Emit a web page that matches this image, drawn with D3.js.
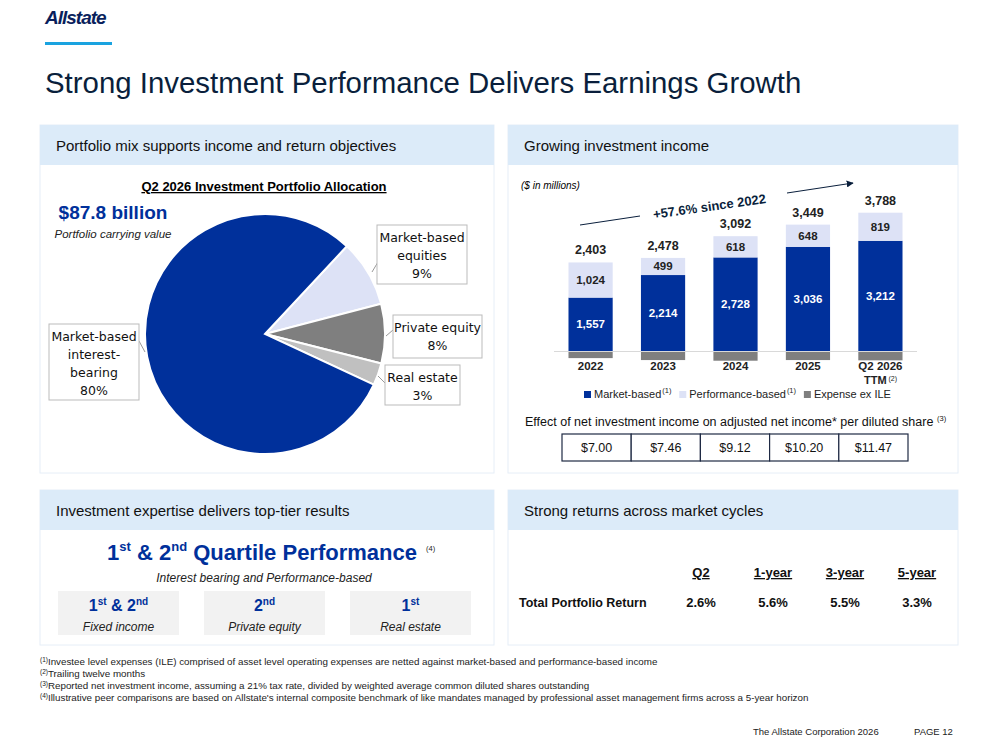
<!DOCTYPE html>
<html><head><meta charset="utf-8">
<script src="https://cdn.jsdelivr.net/npm/d3@7"></script>
<style>body{margin:0;background:#fff}svg{font-family:"Liberation Sans",Arial,sans-serif}</style>
</head><body><svg id="c" width="994" height="749"></svg>
<script>
const pieLabels=["Market-based interest-bearing","Market-based equities","Private equity","Real estate"];
const pieValues=[80,9,8,3];
const years=["2022","2023","2024","2025","Q2 2026"];
const marketBased=[1557,2214,2728,3036,3212];
const performanceBased=[1024,499,618,648,819];
const expense=[-178,-235,-254,-235,-243];
const totals=[2403,2478,3092,3449,3788];
const epsEffect=["$7.00","$7.46","$9.12","$10.20","$11.47"];
const returnPeriods=["Q2","1-year","3-year","5-year"];
const returnValues=["2.6%","5.6%","5.5%","3.3%"];

const svg=d3.select("#c");
const NAVY="#00309b", HDR="#dcebf9";
svg.append("text").attr("x",45).attr("y",24).attr("font-size",19).attr("font-weight","bold").attr("font-style","italic").attr("fill","#0a1f5c").attr("letter-spacing","-1").text("Allstate");
svg.append("rect").attr("x",45).attr("y",42).attr("width",67).attr("height",3).attr("fill","#1aa3e0");
svg.append("text").attr("x",45).attr("y",93).attr("font-size",29.4).attr("fill","#0a1f3c").text("Strong Investment Performance Delivers Earnings Growth");

function panel(x,y,w,h,title){
  svg.append("rect").attr("x",x).attr("y",y).attr("width",w).attr("height",h).attr("fill","#fff").attr("stroke","#e6eef7");
  svg.append("rect").attr("x",x).attr("y",y).attr("width",w).attr("height",40).attr("fill",HDR);
  svg.append("text").attr("x",x+16).attr("y",y+26).attr("font-size",15).attr("fill","#111").text(title);
}
panel(40,125,454,348,"Portfolio mix supports income and return objectives");
panel(508,125,450,348,"Growing investment income");
panel(40,490,454,155,"Investment expertise delivers top-tier results");
panel(508,490,450,155,"Strong returns across market cycles");

// ---- Pie
svg.append("text").attr("x",264).attr("y",191).attr("text-anchor","middle").attr("font-size",13).attr("font-weight","bold").attr("text-decoration","underline").text("Q2 2026 Investment Portfolio Allocation");
svg.append("text").attr("x",113).attr("y",219).attr("text-anchor","middle").attr("font-size",19).attr("font-weight","bold").attr("fill",NAVY).text("$87.8 billion");
svg.append("text").attr("x",113).attr("y",238).attr("text-anchor","middle").attr("font-size",11.5).attr("font-style","italic").attr("fill","#222").text("Portfolio carrying value");
const pieCols=[NAVY,"#dde2f6","#7f7f7f","#c0c0c0"];
const order=[1,2,3,0];
const start=43*Math.PI/180;
const pie=d3.pie().sort(null).value(d=>pieValues[d]).startAngle(start).endAngle(start+2*Math.PI);
const arc=d3.arc().innerRadius(0).outerRadius(120);
const pg=svg.append("g").attr("transform","translate(265,334)");
pg.selectAll("path").data(pie(order)).join("path").attr("d",arc).attr("fill",d=>pieCols[d.data]).attr("stroke","#fff").attr("stroke-width",2);
function callout(x,y,w,h,lines,lx1,ly1,lx2,ly2){
  svg.append("path").attr("d",`M${lx1},${ly1}L${lx2},${ly2}`).attr("stroke","#999").attr("fill","none");
  svg.append("rect").attr("x",x).attr("y",y).attr("width",w).attr("height",h).attr("fill","#fff").attr("stroke","#bbb");
  lines.forEach((l,i)=>svg.append("text").attr("x",x+w/2).attr("y",y+17+i*18).attr("text-anchor","middle").attr("font-size",12.5).attr("font-family","DejaVu Sans").attr("fill","#111").text(l));
}
callout(377,225,90,59,["Market-based","equities",pieValues[1]+"%"],372,272,378,262);
callout(393,315,89,43,["Private equity",pieValues[2]+"%"],386,336,393,330);
callout(385,365,75,40,["Real estate",pieValues[3]+"%"],378,376,385,383);
callout(49,324,90,76,["Market-based","interest-","bearing",pieValues[0]+"%"],145,352,139,341);

// ---- Bars
svg.append("text").attr("x",521).attr("y",189).attr("font-size",10).attr("font-style","italic").text("($ in millions)");
const x=d3.scaleBand().domain(years).range([554,917]).paddingInner(0.39).paddingOuter(0.2);
const y=d3.scaleLinear().domain([0,4031]).range([351,212.7]);
const bg=svg.append("g");
years.forEach((yr,i)=>{
  const bx=x(yr), bw=x.bandwidth(), cx=bx+bw/2;
  bg.append("rect").attr("x",bx).attr("width",bw).attr("y",y(0)+1).attr("height",y(expense[i])-y(0)).attr("fill","#7f7f7f");
  bg.append("rect").attr("x",bx).attr("width",bw).attr("y",y(marketBased[i])).attr("height",y(0)-y(marketBased[i])).attr("fill",NAVY);
  const top=marketBased[i]+performanceBased[i];
  bg.append("rect").attr("x",bx).attr("width",bw).attr("y",y(top)).attr("height",y(marketBased[i])-y(top)).attr("fill","#dde2f6");
  const fs=11.5;
  bg.append("text").attr("x",cx).attr("y",(y(0)+y(marketBased[i]))/2+4).attr("text-anchor","middle").attr("font-size",fs).attr("font-weight","bold").attr("fill","#fff").text(d3.format(",")(marketBased[i]));
  bg.append("text").attr("x",cx).attr("y",(y(top)+y(marketBased[i]))/2+4).attr("text-anchor","middle").attr("font-size",fs).attr("font-weight","bold").attr("fill","#222").text(d3.format(",")(performanceBased[i]));
  bg.append("text").attr("x",cx).attr("y",y(top)-8).attr("text-anchor","middle").attr("font-size",12.5).attr("font-weight","bold").attr("fill","#222").text(d3.format(",")(totals[i]));
  bg.append("text").attr("x",cx).attr("y",370).attr("text-anchor","middle").attr("font-size",11.5).attr("font-weight","bold").attr("fill","#222").text(yr);
});
bg.append("line").attr("x1",554).attr("x2",917).attr("y1",351.5).attr("y2",351.5).attr("stroke","#d9d9d9");
const lc=x("Q2 2026")+x.bandwidth()/2;
bg.append("text").attr("x",lc-5).attr("y",384).attr("text-anchor","middle").attr("font-size",11).attr("font-weight","bold").attr("fill","#222").text("TTM");
bg.append("text").attr("x",lc+8).attr("y",381).attr("font-size",7).attr("fill","#222").text("(2)");
svg.append("defs").append("marker").attr("id","ah").attr("viewBox","0 0 10 10").attr("refX",9).attr("refY",5).attr("markerWidth",7).attr("markerHeight",7).attr("orient","auto").append("path").attr("d","M0,0L10,5L0,10z").attr("fill","#0a1f3c");
svg.append("line").attr("x1",580).attr("y1",225).attr("x2",640).attr("y2",216).attr("stroke","#0a1f3c");
svg.append("line").attr("x1",787).attr("y1",193).attr("x2",853).attr("y2",183).attr("stroke","#0a1f3c").attr("marker-end","url(#ah)");
svg.append("text").attr("transform","translate(710,211) rotate(-8)").attr("text-anchor","middle").attr("font-size",13).attr("font-weight","bold").attr("fill","#0a1f3c").text("+57.6% since 2022");
const leg=[["Market-based",NAVY,true],["Performance-based","#dde2f6",true],["Expense ex ILE","#7f7f7f",false]];
let lx=584;
leg.forEach(([t,c,s])=>{
  svg.append("rect").attr("x",lx).attr("y",391).attr("width",7).attr("height",7).attr("fill",c);
  const tt=svg.append("text").attr("x",lx+10).attr("y",398).attr("font-size",11).attr("fill","#222").text(t);
  let w=tt.node().getComputedTextLength()+10;
  if(s){svg.append("text").attr("x",lx+w+1).attr("y",393).attr("font-size",7.5).attr("fill","#222").text("(1)");w+=12;}
  lx+=w+6;
});
svg.append("text").attr("x",525).attr("y",426).attr("font-size",12.5).attr("fill","#111").text("Effect of net investment income on adjusted net income* per diluted share");
svg.append("text").attr("x",937).attr("y",421).attr("font-size",7.5).attr("fill","#111").text("(3)");
const tx=d3.scaleBand().domain(years).range([562,908]);
years.forEach((yr,i)=>{
  svg.append("rect").attr("x",tx(yr)).attr("y",434).attr("width",tx.bandwidth()).attr("height",27).attr("fill","#fff").attr("stroke","#1f2a44").attr("stroke-width",1.2);
  svg.append("text").attr("x",tx(yr)+tx.bandwidth()/2).attr("y",452).attr("text-anchor","middle").attr("font-size",12.5).attr("fill","#111").text(epsEffect[i]);
});

// ---- Quartile panel
const qt=svg.append("text").attr("x",262).attr("y",560).attr("text-anchor","middle").attr("font-size",22).attr("font-weight","bold").attr("fill",NAVY);
qt.append("tspan").text("1");
qt.append("tspan").attr("font-size",13).attr("dy",-9).text("st");
qt.append("tspan").attr("dy",9).text(" & 2");
qt.append("tspan").attr("font-size",13).attr("dy",-9).text("nd");
qt.append("tspan").attr("dy",9).text(" Quartile Performance");
svg.append("text").attr("x",426).attr("y",551).attr("font-size",7.5).attr("fill","#222").text("(4)");
svg.append("text").attr("x",264).attr("y",582).attr("text-anchor","middle").attr("font-size",12).attr("font-style","italic").attr("fill","#222").text("Interest bearing and Performance-based");
const cards=[["1","st"," & 2","nd","Fixed income"],["2","nd","","","Private equity"],["1","st","","","Real estate"]];
cards.forEach((c,i)=>{
  const cx0=58+i*146;
  svg.append("rect").attr("x",cx0).attr("y",591).attr("width",121).attr("height",44).attr("fill","#f2f2f2");
  const t=svg.append("text").attr("x",cx0+60.5).attr("y",611).attr("text-anchor","middle").attr("font-size",16).attr("font-weight","bold").attr("fill",NAVY);
  t.append("tspan").text(c[0]);
  t.append("tspan").attr("font-size",10).attr("dy",-6).text(c[1]);
  if(c[2]){t.append("tspan").attr("dy",6).text(c[2]);t.append("tspan").attr("font-size",10).attr("dy",-6).text(c[3]);}
  svg.append("text").attr("x",cx0+60.5).attr("y",631).attr("text-anchor","middle").attr("font-size",12).attr("font-style","italic").attr("fill","#222").text(c[4]);
});

// ---- Returns panel
const rx=d3.scalePoint().domain(returnPeriods).range([701,917]);
returnPeriods.forEach((p,i)=>{
  svg.append("text").attr("x",rx(p)).attr("y",577).attr("text-anchor","middle").attr("font-size",13).attr("font-weight","bold").attr("text-decoration","underline").attr("fill","#111").text(p);
  svg.append("text").attr("x",rx(p)).attr("y",607).attr("text-anchor","middle").attr("font-size",13).attr("font-weight","bold").attr("fill","#111").text(returnValues[i]);
});
svg.append("text").attr("x",519).attr("y",607).attr("font-size",12.5).attr("font-weight","bold").attr("fill","#111").text("Total Portfolio Return");

// ---- Footnotes
const notes=[["(1)","Investee level expenses (ILE) comprised of asset level operating expenses are netted against market-based and performance-based income"],["(2)","Trailing twelve months"],["(3)","Reported net investment income, assuming a 21% tax rate, divided by weighted average common diluted shares outstanding"],["(4)","Illustrative peer comparisons are based on Allstate's internal composite benchmark of like mandates managed by professional asset management firms across a 5-year horizon"]];
notes.forEach((n,i)=>{
  const t=svg.append("text").attr("x",40).attr("y",665+i*12).attr("font-size",9.8).attr("fill","#222");
  t.append("tspan").attr("font-size",6.5).attr("dy",-3).text(n[0]);
  t.append("tspan").attr("dy",3).text(n[1]);
});
svg.append("text").attr("x",753).attr("y",735).attr("font-size",9.5).attr("fill","#222").text("The Allstate Corporation 2026");
svg.append("text").attr("x",914).attr("y",735).attr("font-size",9.5).attr("fill","#222").text("PAGE 12");
</script></body></html>
